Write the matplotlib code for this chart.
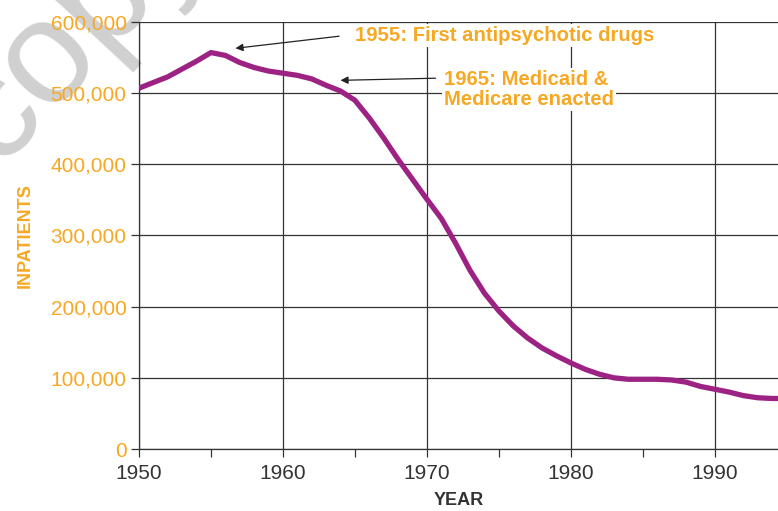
import matplotlib.pyplot as plt
from matplotlib.ticker import FuncFormatter, MultipleLocator

years = [1950, 1952, 1954, 1955, 1956, 1957, 1958, 1959, 1960, 1961, 1962, 1963,
         1964, 1965, 1966, 1967, 1968, 1969, 1970, 1971, 1972, 1973, 1974, 1975,
         1976, 1977, 1978, 1979, 1980, 1981, 1982, 1983, 1984, 1986, 1987, 1988,
         1989, 1990, 1991, 1992, 1993, 1994, 1994.5]
inpatients = [507000, 523000, 545000, 557000, 553000, 543000, 536000, 531000, 528000,
              525000, 520000, 511000, 503000, 490000, 465000, 437000, 407000, 379000,
              351000, 324000, 289000, 251000, 219000, 194000, 173000, 156000, 142000,
              131000, 121000, 112000, 105000, 100000, 98000, 98000, 97000, 94000,
              88000, 84000, 80000, 75000, 72000, 71000, 71000]

orange = '#F7A823'
purple = '#9C2283'
dark = '#333333'
plt.rcParams['font.family'] = ['Liberation Sans', 'DejaVu Sans']

fig = plt.figure(figsize=(7.78, 5.11), dpi=100)

# watermark behind the chart
fig.text(-0.003, 0.672, 'copy', rotation=47, rotation_mode='anchor', fontsize=106,
         color='#d0d0d0', ha='left', va='baseline', zorder=-1)

ax = fig.add_axes([0.1787, 0.1213, 0.8213, 0.8357])
ax.patch.set_alpha(0)

ax.plot(years, inpatients, color=purple, lw=3.8, solid_capstyle='butt', zorder=3)

ax.set_xlim(1950, 1994.4)
ax.set_ylim(0, 600000)
ax.xaxis.set_major_locator(MultipleLocator(10))
ax.xaxis.set_minor_locator(MultipleLocator(5))
ax.yaxis.set_major_locator(MultipleLocator(100000))
ax.yaxis.set_major_formatter(FuncFormatter(lambda v, p: f'{int(v):,}'))

ax.grid(True, which='major', color=dark, lw=0.9)
ax.get_ygridlines()[-1].set_visible(False)
for s in ['top', 'right']:
    ax.spines[s].set_visible(False)
for s in ['left', 'bottom']:
    ax.spines[s].set_color(dark)
    ax.spines[s].set_linewidth(0.9)

ax.tick_params(axis='x', which='both', colors=dark, length=6, width=0.9,
               labelsize=15, labelcolor=dark, pad=5)
ax.tick_params(axis='y', colors=dark, length=6, width=0.9,
               labelsize=15, labelcolor=orange, pad=3)

ax.set_xlabel('YEAR', fontsize=13, fontweight='bold', color=dark, labelpad=6)
ax.set_ylabel('INPATIENTS', fontsize=13, fontweight='bold', color=orange, labelpad=12)

box = dict(boxstyle='square,pad=0.1', fc='white', ec='none')
arrow = dict(arrowstyle='-|>', color='#222222', lw=0.9, mutation_scale=11,
             shrinkA=0, shrinkB=0)

ax.annotate('', xy=(1956.7, 563000), xytext=(1963.9, 580000), arrowprops=arrow)
ax.text(1965.0, 581000, '1955: First antipsychotic drugs', fontsize=14.6,
        fontweight='bold', color=orange, ha='left', va='center', bbox=box, zorder=4)

ax.annotate('', xy=(1964.0, 518000), xytext=(1970.6, 521000), arrowprops=arrow)
ax.text(1971.2, 505000, '1965: Medicaid &\nMedicare enacted', fontsize=14.6,
        fontweight='bold', color=orange, ha='left', va='center', bbox=box,
        linespacing=1.05, zorder=4)

plt.savefig('out.png', dpi=100)
